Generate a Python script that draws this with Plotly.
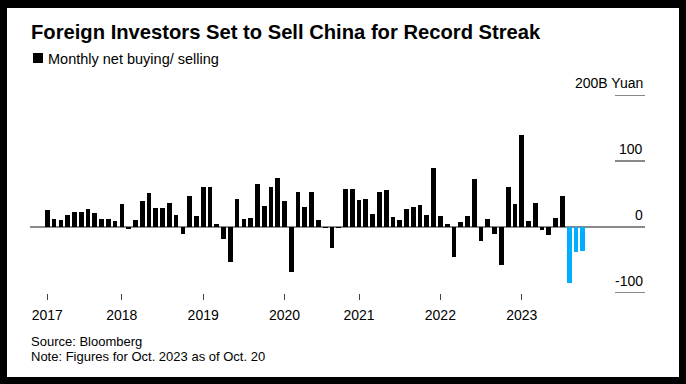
import numpy as np
import pandas as pd
import plotly.graph_objects as go

# ---- data (billion yuan, monthly net buying/selling by foreign investors) ----
months = pd.date_range(end="2023-10-01", periods=80, freq="MS").strftime("%Y-%m").tolist()
net_flow = [
    26, 11.6, 10.6, 18, 22.7, 22.7, 27, 21, 12.6, 12.6, 9, 35,
    -2, 10, 39, 51.5, 29, 29, 36, 18, -10, 47.5, 16, 61,
    61, 5, -18, -53.5, 43, 12.6, 14, 65.5, 32.5, 61.3, 73.5, 39,
    -67.5, 53.7, 30.5, 53.5, 11, -1, -32, -1, 58.3, 57.6, 40.7, 41.7,
    19.2, 53.3, 56.3, 15.8, 11.3, 27.4, 30, 33, 18.7, 89, 16.7, 4,
    -45.5, 7.6, 17, 73, -20.7, 12.6, -10.6, -57, 60.6, 35.4, 140, 9.6,
    36, -4, -11.6, 14, 47.5, -85, -37.4, -36.4,
]
streak_len = 3  # latest months of selling highlighted
year_labels = ["2017", "2018", "2019", "2020", "2021", "2022", "2023"]
year_tick_idx = [0, 11, 23, 35, 46, 58, 70]
y_ticks = [200, 100, 0, -100]
y_tick_text = ["200B Yuan", "100", "0", "-100"]

# ---- geometry (pixels) ----
W, H = 686, 384
L, R, T, B = 30, 645, 95, 293
FONT = "Liberation Sans, Arial, sans-serif"
BLACK = "#000000"
BLUE = "#00aeff"

def px_x(p):
    return (p - L) / (R - L)

def px_y(p):
    return (B - p) / (B - T)

idx = np.arange(len(net_flow))
split = len(net_flow) - streak_len

fig = go.Figure()
fig.add_trace(go.Bar(
    x=idx[:split], y=net_flow[:split], customdata=months[:split],
    marker=dict(color=BLACK, line=dict(width=0)), width=0.69,
    hovertemplate="%{customdata}: %{y}B<extra></extra>", showlegend=False,
))
fig.add_trace(go.Bar(
    x=idx[split:], y=net_flow[split:], customdata=months[split:],
    marker=dict(color=BLUE, line=dict(width=0)), width=0.69,
    hovertemplate="%{customdata}: %{y}B<extra></extra>", showlegend=False,
))

shapes = [
    # white card on black frame
    dict(type="rect", xref="paper", yref="paper",
         x0=px_x(7), x1=px_x(679), y0=px_y(377), y1=px_y(8),
         fillcolor="white", line=dict(width=0), layer="below"),
    # legend swatch
    dict(type="rect", xref="paper", yref="paper",
         x0=px_x(33), x1=px_x(43), y0=px_y(63), y1=px_y(53),
         fillcolor=BLACK, line=dict(width=0)),
]
for v in y_ticks:
    if v == 0:
        continue
    shapes.append(dict(type="line", xref="paper", yref="y",
                       x0=px_x(615), x1=1, y0=v, y1=v,
                       line=dict(color="#111111", width=1)))

annotations = [
    dict(text="<b>Foreign Investors Set to Sell China for Record Streak</b>",
         xref="paper", yref="paper", x=px_x(29), y=px_y(32),
         xanchor="left", yanchor="middle", showarrow=False,
         font=dict(family=FONT, size=20.2, color="#000")),
    dict(text="Monthly net buying/ selling",
         xref="paper", yref="paper", x=px_x(46), y=px_y(58.5),
         xanchor="left", yanchor="middle", showarrow=False,
         font=dict(family=FONT, size=14.5, color="#000")),
    dict(text="Source: Bloomberg",
         xref="paper", yref="paper", x=px_x(29), y=px_y(341.5),
         xanchor="left", yanchor="middle", showarrow=False,
         font=dict(family=FONT, size=13, color="#000")),
    dict(text="Note: Figures for Oct. 2023 as of Oct. 20",
         xref="paper", yref="paper", x=px_x(29), y=px_y(356),
         xanchor="left", yanchor="middle", showarrow=False,
         font=dict(family=FONT, size=13, color="#000")),
]
for v, t in zip(y_ticks, y_tick_text):
    annotations.append(dict(text=t, xref="paper", yref="y", x=1, y=v,
                            xanchor="right", yanchor="bottom", yshift=2,
                            showarrow=False,
                            font=dict(family=FONT, size=14, color="#000")))

fig.update_layout(
    width=W, height=H,
    margin=dict(l=L, r=W - R, t=T, b=H - B, pad=0),
    paper_bgcolor="black", plot_bgcolor="white",
    bargap=0, barmode="overlay",
    shapes=shapes, annotations=annotations,
    font=dict(family=FONT, color="#000"),
    xaxis=dict(range=[-2.55, 88.19], tickvals=year_tick_idx, ticktext=year_labels,
               ticks="outside", ticklen=6, tickwidth=1, tickcolor="#444",
               showgrid=False, zeroline=False, showline=False,
               tickfont=dict(family=FONT, size=14, color="#000"),
               ticklabelstandoff=3, fixedrange=True),
    yaxis=dict(range=[-100, 200], showticklabels=False, showgrid=False,
               zeroline=True, zerolinecolor="#8a8a8a", zerolinewidth=1.5,
               showline=False, ticks="", fixedrange=True),
)

fig.write_html("out.html", config={"displayModeBar": False},
               post_script="document.body.style.margin='0';")
